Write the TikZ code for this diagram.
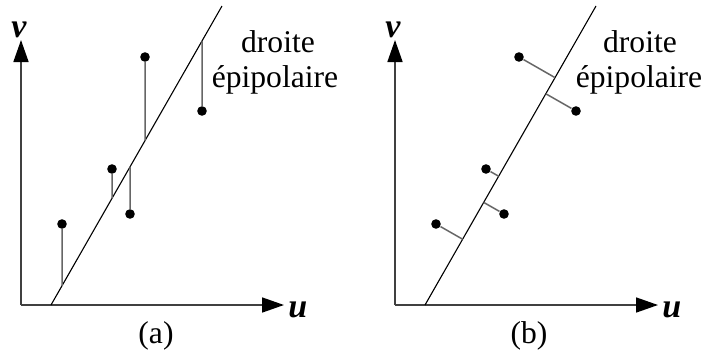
\documentclass[tikz,border=0pt]{standalone}
\usepackage{fontspec}
\setmainfont{Liberation Serif}
\usetikzlibrary{arrows.meta,calc}

\begin{document}
\begin{tikzpicture}[x=0.5pt,y=-0.5pt,
  axis/.style={-{Triangle[length=11pt,width=7.5pt,color=black]},line width=0.8pt,black!75},
  epi/.style={line width=0.55pt},
  gap/.style={line width=0.75pt,black!60},
  dot/.style={circle,fill,inner sep=0pt,minimum size=4.8pt},
  lbl/.style={font=\fontsize{15.8}{18}\selectfont,inner sep=0pt},
  axlbl/.style={font=\fontsize{17}{19}\selectfont\bfseries\itshape,inner sep=0pt}
]
  \useasboundingbox (0,0) rectangle (706,354);

  % (a) vertical distances
  \coordinate (oa) at (21,305);
  \coordinate (va) at (21,40);
  \coordinate (ua) at (284,305);
  \draw[axis] (oa) -- (va);
  \draw[axis] (oa) -- (ua);
  \node[axlbl,anchor=base] (lva) at (19,37) {v};
  \node[axlbl,anchor=base west] (lua) at (288,317) {u};
  \coordinate (la0) at (51,305);
  \coordinate (la1) at (222,6);
  \draw[epi] (la0) -- (la1);
  \node[lbl,anchor=base] (da) at (278,52) {droite};
  \node[lbl,anchor=base] (ea) at (275,87) {épipolaire};
  \node[lbl,anchor=base] (capa) at (156,343) {(a)};

  \node[dot] (pa1) at (62,224) {};
  \node[dot] (pa2) at (112,169) {};
  \node[dot] (pa3) at (130,214) {};
  \node[dot] (pa4) at (145,57) {};
  \node[dot] (pa5) at (202,111) {};
  \coordinate (ta1) at (62,0);
  \coordinate (ta2) at (112,0);
  \coordinate (ta3) at (130,0);
  \coordinate (ta4) at (145,0);
  \coordinate (ta5) at (202,0);
  \draw[gap] (pa1) -- (intersection of la0--la1 and pa1--ta1);
  \draw[gap] (pa2) -- (intersection of la0--la1 and pa2--ta2);
  \draw[gap] (pa3) -- (intersection of la0--la1 and pa3--ta3);
  \draw[gap] (pa4) -- (intersection of la0--la1 and pa4--ta4);
  \draw[gap] (pa5) -- (intersection of la0--la1 and pa5--ta5);

  % (b) orthogonal distances
  \begin{scope}[xshift=374*0.5pt]
    \coordinate (ob) at (21,305);
    \coordinate (vb) at (21,40);
    \coordinate (ub) at (284,305);
    \draw[axis] (ob) -- (vb);
    \draw[axis] (ob) -- (ub);
    \node[axlbl,anchor=base] (lvb) at (19,37) {v};
    \node[axlbl,anchor=base west] (lub) at (288,317) {u};
    \coordinate (lb0) at (51,305);
    \coordinate (lb1) at (222,6);
    \draw[epi] (lb0) -- (lb1);
    \node[lbl,anchor=base] (db) at (266,52) {droite};
    \node[lbl,anchor=base] (eb) at (265,87) {épipolaire};
    \node[lbl,anchor=base] (capb) at (155,343) {(b)};

    \node[dot] (pb1) at (62,224) {};
    \node[dot] (pb2) at (112,169) {};
    \node[dot] (pb3) at (130,214) {};
    \node[dot] (pb4) at (145,57) {};
    \node[dot] (pb5) at (202,111) {};
    \draw[gap] (pb1) -- ($(lb0)!(pb1)!(lb1)$);
    \draw[gap] (pb2) -- ($(lb0)!(pb2)!(lb1)$);
    \draw[gap] (pb3) -- ($(lb0)!(pb3)!(lb1)$);
    \draw[gap] (pb4) -- ($(lb0)!(pb4)!(lb1)$);
    \draw[gap] (pb5) -- ($(lb0)!(pb5)!(lb1)$);
  \end{scope}
\end{tikzpicture}
\end{document}
